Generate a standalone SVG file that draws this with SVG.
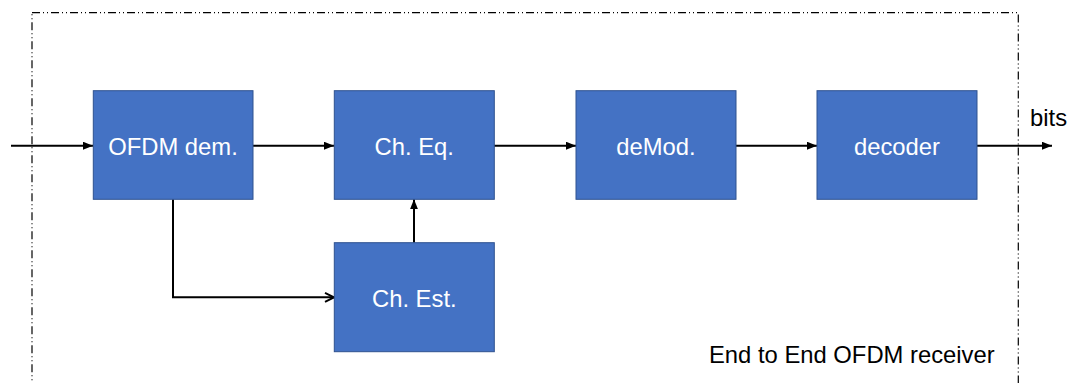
<svg xmlns="http://www.w3.org/2000/svg" width="1072" height="383" viewBox="0 0 1072 383">
<style>
.box{fill:#4472C4;stroke:#2F528F;stroke-width:1}
.lbl{font-family:"Liberation Sans",Arial,sans-serif;font-size:23.8px;fill:#FFFFFF;text-anchor:middle}
.txt{font-family:"Liberation Sans",Arial,sans-serif;font-size:23.8px;fill:#000000}
.conn{fill:none;stroke:#000000;stroke-width:2}
</style>
<defs>
<marker id="tri" markerWidth="10" markerHeight="8" refX="10" refY="4" orient="auto" markerUnits="userSpaceOnUse">
<path d="M0,0 L10,4 L0,8 Z" fill="#000000"/>
</marker>
<marker id="open" markerWidth="12" markerHeight="12" refX="10" refY="6" orient="auto" markerUnits="userSpaceOnUse">
<path d="M1,1.5 L10,6 L1,10.5" fill="none" stroke="#000000" stroke-width="2"/>
</marker>
</defs>
<rect id="boundary" x="32" y="12.7" width="986.3" height="400" fill="none" stroke="#000000" stroke-width="1.2" stroke-dasharray="8 3 1 3 1 3"/>
<g id="connectors">
<line class="conn" x1="11" y1="145.7" x2="93" y2="145.7" marker-end="url(#tri)"/>
<line class="conn" x1="253" y1="145.7" x2="334" y2="145.7" marker-end="url(#tri)"/>
<line class="conn" x1="494" y1="145.7" x2="576" y2="145.7" marker-end="url(#tri)"/>
<line class="conn" x1="736" y1="145.7" x2="817" y2="145.7" marker-end="url(#tri)"/>
<line class="conn" x1="977" y1="145.7" x2="1052" y2="145.7" marker-end="url(#tri)"/>
<polyline class="conn" points="173,199.3 173,297.3 334,297.3" marker-end="url(#open)"/>
<line class="conn" x1="414" y1="242.7" x2="414" y2="199.3" marker-end="url(#tri)"/>
</g>
<g id="ofdm-dem"><rect class="box" x="93.3" y="90.7" width="159.7" height="108.6"/><text class="lbl" x="173" y="155">OFDM dem.</text></g>
<g id="ch-eq"><rect class="box" x="334.3" y="90.7" width="160" height="108.6"/><text class="lbl" x="414.3" y="155">Ch. Eq.</text></g>
<g id="demod"><rect class="box" x="576" y="90.7" width="160" height="108.6"/><text class="lbl" x="656" y="155">deMod.</text></g>
<g id="decoder"><rect class="box" x="817" y="90.7" width="160" height="108.6"/><text class="lbl" x="897" y="155">decoder</text></g>
<g id="ch-est"><rect class="box" x="334.3" y="242.7" width="160" height="109"/><text class="lbl" x="414.3" y="307">Ch. Est.</text></g>
<text class="txt" x="1030" y="126">bits</text>
<text class="txt" x="709" y="363">End to End OFDM receiver</text>
</svg>
